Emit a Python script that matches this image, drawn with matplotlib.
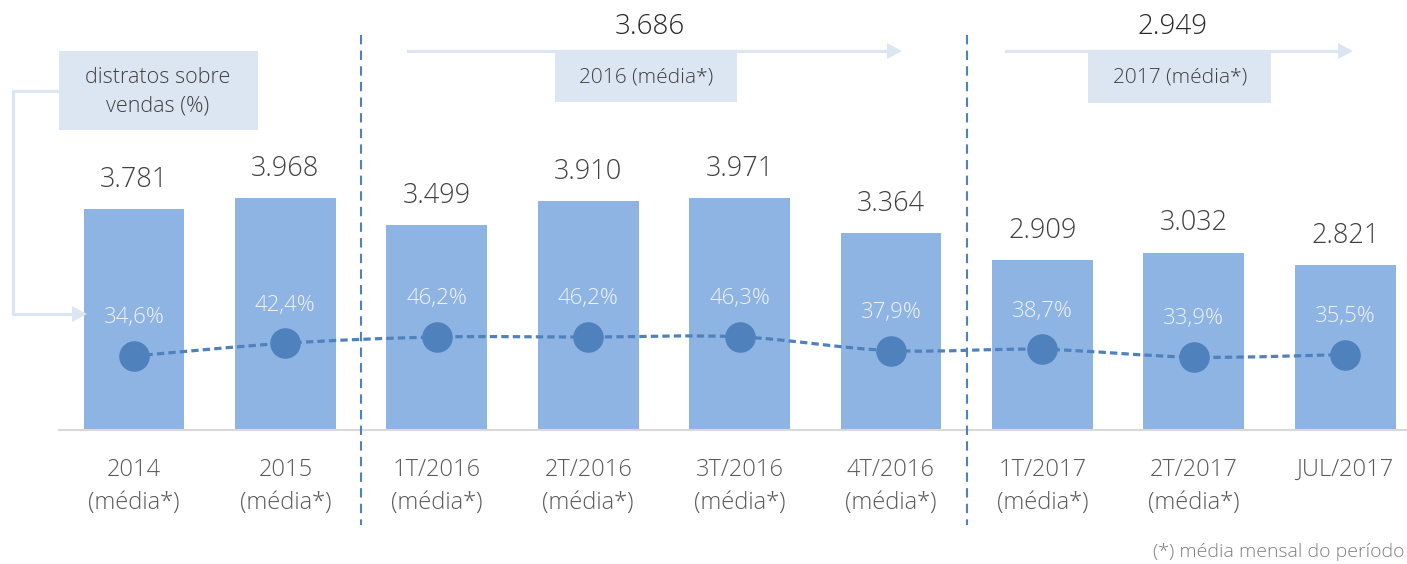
import numpy as np
import matplotlib
matplotlib.use("Agg")
import matplotlib.pyplot as plt
from matplotlib.transforms import Affine2D
from matplotlib.patches import Rectangle, Polygon
from matplotlib.path import Path
from matplotlib.patches import PathPatch
from matplotlib.lines import Line2D

# data
categories = ["2014\n(média*)", "2015\n(média*)", "1T/2016\n(média*)", "2T/2016\n(média*)",
              "3T/2016\n(média*)", "4T/2016\n(média*)", "1T/2017\n(média*)", "2T/2017\n(média*)",
              "JUL/2017"]
distratos = [3.781, 3.968, 3.499, 3.910, 3.971, 3.364, 2.909, 3.032, 2.821]
pct = [34.6, 42.4, 46.2, 46.2, 46.3, 37.9, 38.7, 33.9, 35.5]
media_2016 = 3.686
media_2017 = 2.949

plt.rcParams['font.family'] = ['Open Sans', 'DejaVu Sans']

BAR = "#8EB4E3"
DOT = "#4F81BD"
PALE = "#DCE6F2"
TXT = "#404040"

W, H = 1407, 564
fig = plt.figure(figsize=(W / 100, H / 100), dpi=100)
ax = fig.add_axes([0, 0, 1, 1])
ax.set_xlim(-0.885, 8.408)
ax.set_ylim(-134 / 58.5, 430 / 58.5)
ax.axis("off")

x = np.arange(len(categories))
ax.bar(x, distratos, width=0.665, color=BAR, zorder=2)
ax.hlines(0, -0.5, 8.6, color="#D9D9D9", lw=1.5, zorder=3)

def fmt(v):
    return f"{v:.3f}"

for xi, v in zip(x, distratos):
    ax.annotate(fmt(v), (xi, v), xytext=(0, 21), textcoords="offset points",
                ha="center", va="center", fontsize=19.5, color=TXT, fontweight="light")
for xi, lab in zip(x, categories):
    ax.text(xi, -0.48, lab, ha="center", va="top", fontsize=17, color="#595959",
            linespacing=1.5, fontweight="light")

# separators
for xs in (1.5, 5.5):
    ax.plot([xs, xs], [430 / 58.5 - 35 / 58.5, -95 / 58.5], color=DOT, lw=1.5,
            linestyle=(0, (4.5, 3)), zorder=4)

# percentage series on secondary axis
ax2 = fig.add_axes([0, 0, 1, 1], sharex=ax)
ax2.set_ylim(-151.3 / 1.638, 412.7 / 1.638)
ax2.axis("off")
ax2.patch.set_visible(False)

# smooth dashed line through points (Catmull-Rom bezier)
pts = np.column_stack([x, pct]).astype(float)
verts = [tuple(pts[0])]
codes = [Path.MOVETO]
n = len(pts)
for i in range(n - 1):
    p0 = pts[max(i - 1, 0)]
    p1 = pts[i]
    p2 = pts[i + 1]
    p3 = pts[min(i + 2, n - 1)]
    c1 = p1 + (p2 - p0) / 6
    c2 = p2 - (p3 - p1) / 6
    verts += [tuple(c1), tuple(c2), tuple(p2)]
    codes += [Path.CURVE4] * 3
ax2.add_patch(PathPatch(Path(verts, codes), fill=False, edgecolor=DOT, lw=2.3,
                        linestyle=(0, (2.3, 1.3)), zorder=5))
ax2.plot(x, pct, "o", color=DOT, markersize=21, zorder=6)
for xi, p in zip(x, pct):
    ax2.annotate(f"{p:.1f}%".replace(".", ","), (xi, p), xytext=(0, 27.5),
                 textcoords="offset points", ha="center", va="center",
                 fontsize=16, color="#F2F2F2", fontweight="light")

# decorations in pixel coordinates (origin top-left)
T = Affine2D().scale(1 / W, -1 / H).translate(0, 1) + fig.transFigure

def box(x0, y0, x1, y1):
    fig.patches.append(Rectangle((x0, y0), x1 - x0, y1 - y0, transform=T,
                                 facecolor=PALE, edgecolor="none", zorder=1))

def arrow_h(x0, x1, y, head=15, half=8):
    fig.lines.append(Line2D([x0, x1 - head], [y, y], transform=T, color=PALE, lw=2.3))
    fig.patches.append(Polygon([(x1 - head, y - half), (x1, y), (x1 - head, y + half)],
                               closed=True, transform=T, facecolor=PALE, edgecolor="none"))

# left legend box with connector
box(59, 51, 258, 130)
fig.text(158 / W, 1 - 92 / H, "distratos sobre\nvendas (%)", ha="center", va="center",
         fontsize=15.5, color=TXT, linespacing=1.45, fontweight="light")
fig.lines.append(Line2D([59, 13, 13, 73], [91, 91, 314, 314], transform=T, color=PALE, lw=2.3))
arrow_h(72, 87, 314)

# year averages
arrow_h(408, 902, 51)
box(555, 52, 737, 102)
fig.text(646 / W, 1 - 77 / H, "2016 (média*)", ha="center", va="center",
         fontsize=15, color=TXT, fontweight="light")
fig.text(650 / W, 1 - 27 / H, fmt(media_2016), ha="center", va="center",
         fontsize=20, color="#262626", fontweight="light")

arrow_h(1006, 1353, 51)
box(1088, 52, 1271, 103)
fig.text(1180 / W, 1 - 77 / H, "2017 (média*)", ha="center", va="center",
         fontsize=15, color=TXT, fontweight="light")
fig.text(1173 / W, 1 - 27 / H, fmt(media_2017), ha="center", va="center",
         fontsize=20, color="#262626", fontweight="light")

fig.text(1153 / W, 1 - 552 / H, "(*) média mensal do período", ha="left", va="center",
         fontsize=14, color="#7F7F7F", fontweight="light")

fig.savefig("out.png", dpi=100)
